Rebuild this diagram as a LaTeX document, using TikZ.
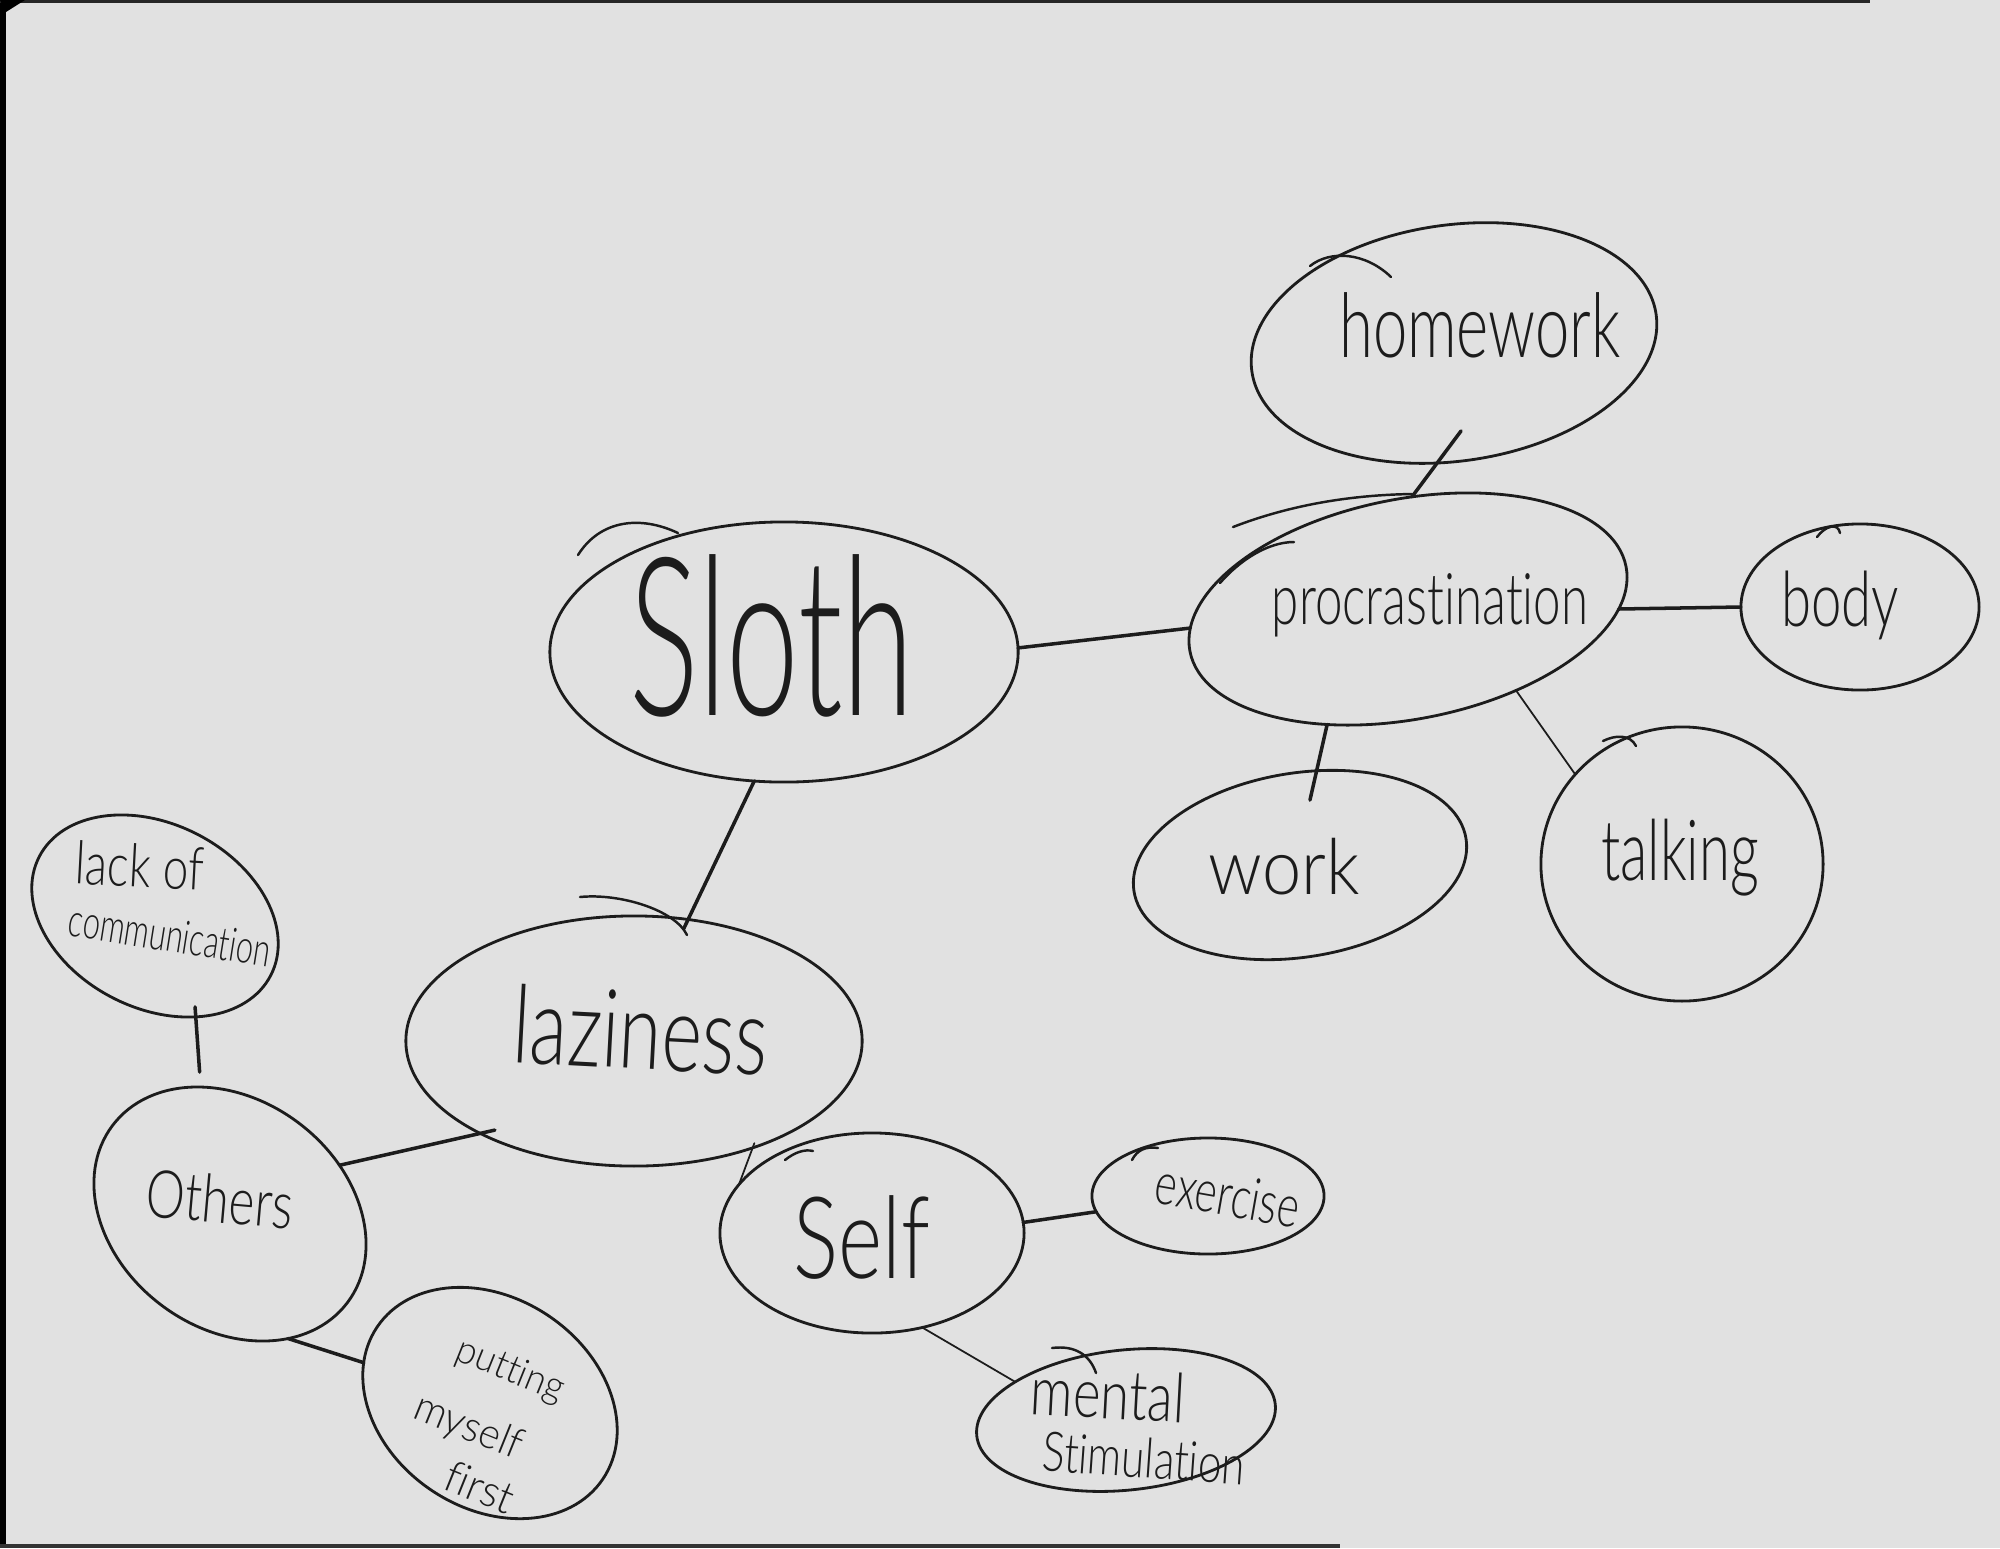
\documentclass[tikz,border=0pt]{standalone}
\usepackage{fontspec}
\IfFontExistsTF{Lato Light}{\setmainfont{Lato Light}[Ligatures=NoCommon]}{\setmainfont{Open Sans}}
\usepackage{graphicx}
\usetikzlibrary{shapes.geometric}
\definecolor{paper}{HTML}{E1E1E1}
\definecolor{ink}{HTML}{1C1C1C}
\newcommand\hwt[3]{\fontsize{#1}{#1}\selectfont\scalebox{1}[#2]{#3}}
\tikzset{
 bub/.style 2 args={ellipse, draw=ink, line width=0.8pt, inner sep=0pt, outer sep=0pt,
   minimum width={2*#1*0.1mm}, minimum height={2*#2*0.1mm}},
 lbl/.style={inner sep=0pt, text=ink},
 link/.style={draw=ink, line width=1pt, line cap=round},
 thinlink/.style={draw=ink, line width=0.5pt, line cap=round},
 stroke/.style={draw=ink, line width=0.7pt, line cap=round},
}
\begin{document}
\begin{tikzpicture}[x=0.01cm,y=-0.01cm]
\useasboundingbox (0,0) rectangle (2000,1548);
\fill[paper] (0,0) rectangle (2000,1548);
\fill[black] (0,0) rectangle (6,1548);
\fill[black!85] (0,0) rectangle (1870,3);
\fill[black!80] (0,1544) rectangle (1340,1548);
\fill[black] (0,0) -- (25,0) -- (6,12) -- cycle;

% bubbles
\node[bub={234}{130}] (sloth) at (784,652) {};
\node[bub={222}{110}, rotate=11] (proc) at (1408,609) {};
\node[bub={204}{118}, rotate=8] (hw) at (1454,343) {};
\node[bub={119}{83}] (body) at (1860,607) {};
\node[bub={168}{92}, rotate=9] (work) at (1300,865) {};
\node[bub={141}{137}] (talk) at (1682,864) {};
\node[bub={228}{125}] (laz) at (634,1041) {};
\node[bub={130}{92}, rotate=-27] (lack) at (155,916) {};
\node[bub={147}{114}, rotate=-37] (others) at (230,1214) {};
\node[bub={136}{105}, rotate=-34] (put) at (490,1403) {};
\node[bub={152}{100}] (self) at (872,1233) {};
\node[bub={116}{58}] (ex) at (1208,1196) {};
\node[bub={150}{70}, rotate=6] (ment) at (1126,1420) {};

% labels
\node[lbl] (slothT) at (772,636) {\hwt{37}{1.7}{Sloth}};
\node[lbl] (hwT) at (1480,325) {\hwt{17.5}{1.45}{homework}};
\node[lbl] (procT) at (1430,605) {\hwt{14}{1.45}{procrastination}};
\node[lbl] (bodyT) at (1840,605) {\hwt{15.5}{1.4}{body}};
\node[lbl] (workT) at (1284,867) {\hwt{20}{1.1}{work}};
\node[lbl] (talkT) at (1680,858) {\hwt{16}{1.5}{talking}};
\node[lbl, rotate=-3] (lazT) at (641,1030) {\hwt{22}{1.4}{laziness}};
\node[lbl, rotate=-3] (lackA) at (140,866) {\hwt{13}{1.3}{lack of}};
\node[lbl, rotate=-9] (lackB) at (170,935) {\hwt{8.8}{1.5}{communication}};
\node[lbl, rotate=-5] (othT) at (220,1199) {\hwt{14}{1.35}{Others}};
\node[lbl, rotate=-22] (putA) at (510,1371) {\hwt{10.5}{1.05}{putting}};
\node[lbl, rotate=-22] (putB) at (468,1428) {\hwt{11.5}{1.05}{myself}};
\node[lbl, rotate=-22] (putC) at (480,1487) {\hwt{12}{1.05}{first}};
\node[lbl] (selfT) at (862,1237) {\hwt{24}{1.35}{Self}};
\node[lbl, rotate=-10] (exT) at (1228,1195) {\hwt{12}{1.4}{exercise}};
\node[lbl, rotate=-3] (mentA) at (1108,1394) {\hwt{15}{1.3}{mental}};
\node[lbl, rotate=-4] (mentB) at (1144,1458) {\hwt{12}{1.3}{Stimulation}};

% connectors
\draw[link] (sloth.1) -- (proc.174);
\draw[link, shorten <=-4mm] (hw.254) -- (proc.77);
\draw[link] (proc.349) -- (body.180);
\draw[link, shorten >=-3mm] (proc.224) -- (work.71);
\draw[thinlink] (proc.312) -- (talk.140);
\draw[link, shorten >=-1mm] (sloth.257) -- (laz.66);
\draw[link, shorten <=-1.5mm] (laz.211) -- (others.61);
\draw[link, shorten <=-1mm, shorten >=1.5mm] (lack.319) -- (others.140);
\draw[thinlink, shorten <=-0.5mm] (laz.318) -- (self.160);
\draw[link] (others.332) -- (put);
\draw[link] (self.4) -- (ex.188);
\draw[thinlink] (self.298) -- (ment.155);

% stray pen strokes
\draw[stroke] (1310,266) .. controls (1330,250) and (1365,252) .. (1391,277);
\draw[stroke] (1233,527) .. controls (1290,505) and (1350,495) .. (1412,494);
\draw[stroke] (1220,583) .. controls (1240,560) and (1268,542) .. (1294,542);
\draw[stroke] (1817,537) .. controls (1825,526) and (1838,522) .. (1840,533);
\draw[stroke] (1603,741) .. controls (1615,735) and (1630,734) .. (1636,746);
\draw[stroke] (580,897) .. controls (620,893) and (675,910) .. (687,935);
\draw[stroke] (785,1160) .. controls (795,1152) and (805,1149) .. (813,1151);
\draw[stroke] (1052,1348) .. controls (1075,1345) and (1090,1355) .. (1096,1373);
\draw[stroke] (1132,1160) .. controls (1137,1150) and (1146,1146) .. (1158,1148);
\draw[stroke] (678,533) .. controls (640,515) and (600,520) .. (578,555);
\end{tikzpicture}
\end{document}
